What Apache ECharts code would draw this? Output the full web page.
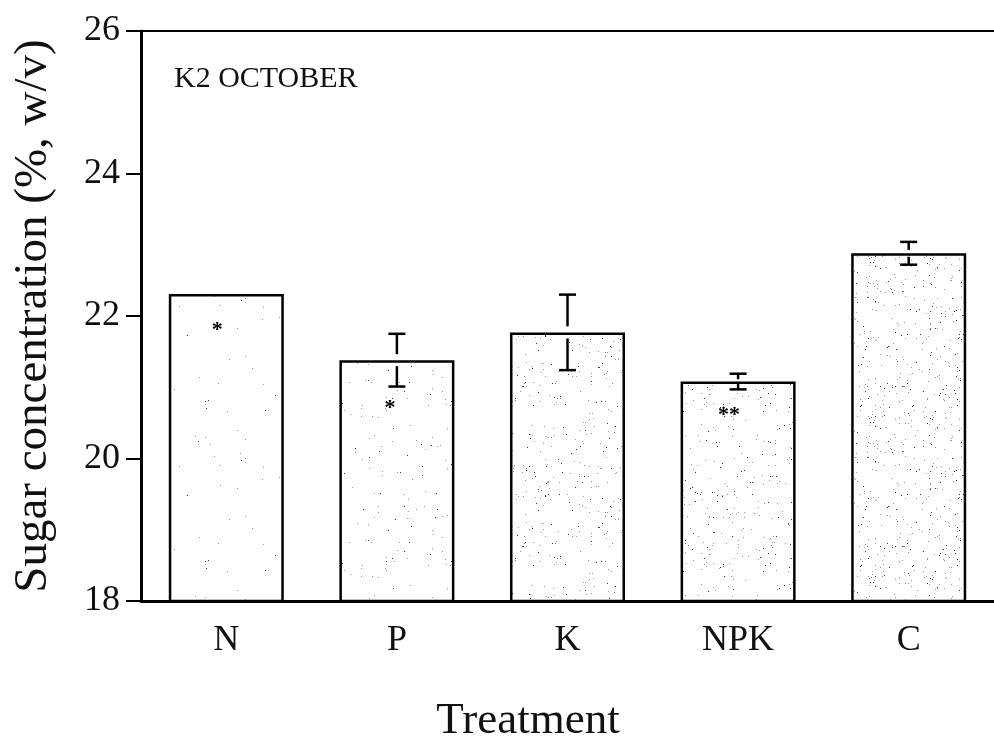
<!DOCTYPE html>
<html><head><meta charset="utf-8">
<script src="https://cdn.jsdelivr.net/npm/echarts@6/dist/echarts.min.js"></script>
<style>html,body{margin:0;padding:0;background:#fff}#c{width:994px;height:743px}</style>
</head><body><div id="c"></div>
<script>
const categories = ['N', 'P', 'K', 'NPK', 'C'];
const sugarMeans = [22.31, 21.38, 21.77, 21.08, 22.88];
const sugarErrors = [0, 0.37, 0.53, 0.11, 0.16];
const stars = [['N', 21.8, '*'], ['P', 20.7, '*'], ['NPK', 20.6, '**']];
const starOffsets = [-9, -7, -9];
const dotDensity = [0.002, 0.005, 0.012, 0.012, 0.018];
const yTicks = [18, 20, 22, 24, 26];

function stipple(density, seed) {
  const c = document.createElement('canvas');
  c.width = 120; c.height = 160;
  const ctx = c.getContext('2d');
  ctx.fillStyle = '#fff'; ctx.fillRect(0, 0, 120, 160);
  let s = seed;
  function rnd() { s = (s * 1103515245 + 12345) % 2147483648; return s / 2147483648; }
  const n = Math.round(120 * 160 * density);
  for (let i = 0; i < n; i++) {
    const x = Math.floor(rnd() * 120), y = Math.floor(rnd() * 160);
    const g = rnd() < 0.3 ? 50 : 150;
    ctx.fillStyle = 'rgb(' + g + ',' + g + ',' + g + ')';
    ctx.fillRect(x, y, 1, 1);
  }
  return c;
}

const chart = echarts.init(document.getElementById('c'));
const serif = '"Liberation Serif", "DejaVu Serif", serif';

const barData = sugarMeans.map((v, i) => ({
  value: v,
  itemStyle: { color: { image: stipple(dotDensity[i], 17 + i * 101), repeat: 'repeat' } }
}));

const errData = categories.map((c, i) => [i, sugarMeans[i], sugarErrors[i]]);
const starData = stars.map((s, i) => [categories.indexOf(s[0]), s[1], s[2], starOffsets[i]]);

chart.setOption({
  animation: false,
  backgroundColor: '#fff',
  grid: { left: 141, width: 862, top: 31, bottom: 142 },
  title: {
    text: 'K2 OCTOBER', left: 169, top: 59,
    textStyle: { fontFamily: serif, fontSize: 30, fontWeight: 'normal', color: '#111' }
  },
  graphic: [{
    type: 'text', x: 528, y: 721,
    style: { text: 'Treatment', fontFamily: serif, fontSize: 45, fill: '#111',
      align: 'center', verticalAlign: 'middle' }
  }],
  xAxis: [{
    type: 'category', data: categories,
    axisLine: { lineStyle: { color: '#000', width: 3 } },
    axisTick: { alignWithLabel: true, length: 11, lineStyle: { color: '#000', width: 2 } },
    axisLabel: { fontFamily: serif, fontSize: 36, color: '#111', margin: 22 }
  }, {
    type: 'category', data: categories, position: 'top',
    axisLine: { lineStyle: { color: '#000', width: 2 } },
    axisTick: { show: false }, axisLabel: { show: false }
  }],
  yAxis: {
    type: 'value', min: 18, max: 26, interval: 2,
    name: 'Sugar concentration (%, w/v)', nameLocation: 'middle', nameGap: 84,
    nameTextStyle: { fontFamily: serif, fontSize: 47, color: '#111' },
    axisLine: { show: true, lineStyle: { color: '#000', width: 3 } },
    axisTick: { show: true, length: 15, lineStyle: { color: '#000', width: 2 } },
    axisLabel: { fontFamily: serif, fontSize: 36, color: '#111', margin: 21,
      formatter: v => yTicks.includes(v) ? String(v) : '' },
    splitLine: { show: false }
  },
  series: [{
    type: 'bar', data: barData, barWidth: 115,
    itemStyle: { borderColor: '#000', borderWidth: 2.5 }
  }, {
    type: 'custom', data: errData, z: 5,
    renderItem: function (params, api) {
      const i = api.value(0), m = api.value(1), e = api.value(2);
      if (!e) return null;
      const top = api.coord([i, m]);
      const hi = api.coord([i, m + e]);
      const lo = api.coord([i, m - e]);
      const gap = Math.min(6, (top[1] - hi[1]) * 0.3);
      const w = 8.5;
      const st = { stroke: '#000', lineWidth: 2.5 };
      return { type: 'group', children: [
        { type: 'line', shape: { x1: top[0], y1: hi[1], x2: top[0], y2: top[1] - gap }, style: st },
        { type: 'line', shape: { x1: top[0] - w, y1: hi[1], x2: top[0] + w, y2: hi[1] }, style: st },
        { type: 'line', shape: { x1: top[0], y1: top[1] + gap, x2: top[0], y2: lo[1] }, style: st },
        { type: 'line', shape: { x1: top[0] - w, y1: lo[1], x2: top[0] + w, y2: lo[1] }, style: st }
      ]};
    }
  }, {
    type: 'custom', data: starData, z: 6,
    renderItem: function (params, api) {
      const p = api.coord([api.value(0), api.value(1)]);
      return { type: 'text', x: p[0] + api.value(3), y: p[1],
        style: { text: starData[params.dataIndex][2], fontFamily: serif, fontSize: 22,
          fontWeight: 'bold', fill: '#000', align: 'center', verticalAlign: 'middle' } };
    }
  }]
});
</script></body></html>
